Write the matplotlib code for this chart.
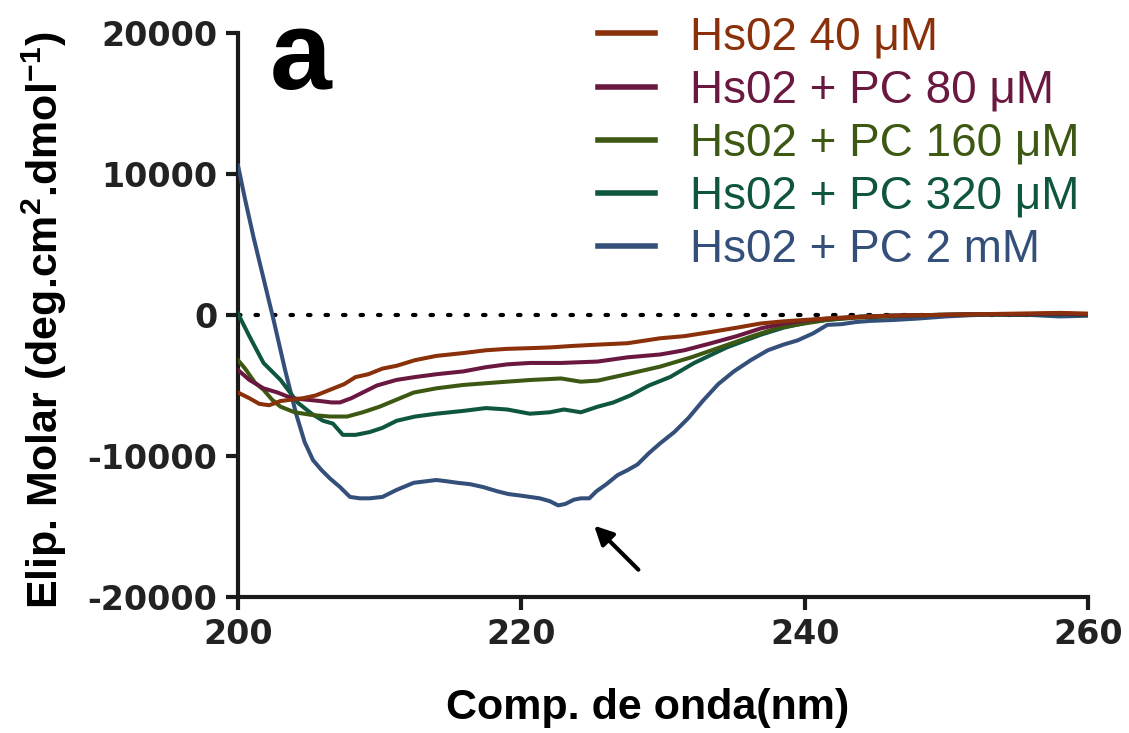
import matplotlib
matplotlib.use('Agg')
import matplotlib.pyplot as plt

plt.rcParams['font.family'] = ['Liberation Sans', 'DejaVu Sans']
plt.rcParams['mathtext.default'] = 'regular'
plt.rcParams['axes.unicode_minus'] = False

# CD spectra (wavelength in nm, molar ellipticity)
LABELS = ['Hs02 40 \u03bcM', 'Hs02 + PC 80 \u03bcM', 'Hs02 + PC 160 \u03bcM',
          'Hs02 + PC 320 \u03bcM', 'Hs02 + PC 2 mM']
COLORS = ['#8a300a', '#6a1840', '#3c5812', '#0f5640', '#34507a']

nm_40 = [200, 200.8, 201.5, 202.2, 203.0, 203.8, 204.6, 205.5, 206.5, 207.5, 208.3, 209.2, 210.2,
         211.2, 212.5, 214.0, 215.9, 217.5, 219.0, 220.6, 222.0, 223.5, 225.4, 227.5, 229.8, 231.5,
         233.4, 235.2, 236.9, 238.5, 240.0, 241.6, 243.5, 246, 249, 252, 255, 258, 260]
el_40 = [-5500, -5900, -6300, -6400, -6100, -6000, -5900, -5700, -5300, -4900, -4400, -4200, -3800,
         -3600, -3200, -2900, -2700, -2500, -2400, -2350, -2300, -2200, -2100, -2000, -1650, -1500,
         -1200, -900, -600, -450, -350, -250, -150, -50, 0, 50, 100, 150, 100]

nm_80 = [200, 200.8, 201.8, 202.8, 203.8, 204.8, 205.8, 206.6, 207.2, 208.0, 208.8, 209.8, 211.2,
         212.5, 214.0, 215.9, 217.5, 219.0, 220.6, 222.8, 225.4, 227.5, 229.8, 231.5, 233.4, 235.2,
         236.9, 238.5, 240.0, 241.6, 243.5, 246, 249, 252, 255, 258, 260]
el_80 = [-3900, -4600, -5200, -5500, -5900, -6000, -6100, -6200, -6200, -5900, -5500, -5000, -4600,
         -4400, -4200, -4000, -3700, -3500, -3400, -3400, -3300, -3000, -2800, -2500, -2000, -1500,
         -950, -600, -400, -250, -150, -50, 0, 50, 50, 100, 50]

nm_160 = [200, 200.5, 201.2, 201.8, 202.4, 203.0, 204.0, 205.3, 206.5, 207.7, 208.8, 210.0, 211.2,
          212.4, 214.0, 215.9, 218.0, 220.6, 222.8, 224.2, 225.4, 227.7, 229.8, 232.0, 234.5, 236.3,
          238.1, 240.0, 241.6, 243.5, 246, 249, 252, 255, 258, 260]
el_160 = [-3200, -3800, -4800, -5300, -6000, -6500, -6900, -7100, -7200, -7200, -6900, -6500, -6000,
          -5500, -5200, -4960, -4800, -4610, -4500, -4730, -4650, -4140, -3660, -3000, -2130, -1500,
          -920, -600, -350, -200, -100, 0, 50, 50, 100, 50]

nm_320 = [200, 200.8, 201.8, 203.0, 204.2, 205.2, 206.0, 206.7, 207.4, 208.3, 209.3, 210.2, 211.2,
          212.5, 214.0, 215.9, 217.5, 219.0, 220.6, 222.0, 223.0, 224.2, 225.4, 226.5, 227.7, 229.0,
          230.5, 232.2, 234.5, 236.9, 238.5, 240.4, 242.0, 244.0, 246, 249, 252, 255, 258, 260]
el_320 = [100, -1500, -3400, -4600, -6200, -7000, -7500, -7700, -8500, -8500, -8300, -8000, -7500,
          -7200, -7000, -6800, -6600, -6700, -7000, -6900, -6700, -6900, -6500, -6200, -5700, -5000,
          -4400, -3400, -2300, -1400, -900, -470, -300, -100, -50, 0, 50, 0, 50, 0]

nm_2mm = [200.0, 200.5, 201.1, 201.8, 202.5, 203.3, 204.1, 204.7, 205.3, 205.9, 206.5, 207.2, 207.9,
          208.6, 209.3, 210.2, 211.2, 212.4, 213.2, 214.0, 214.8, 215.5, 216.4, 217.3, 218.3, 219.1,
          219.9, 220.6, 221.3, 222.0, 222.6, 223.1, 223.7, 224.2, 224.8, 225.3, 226.0, 226.8, 227.5,
          228.2, 229.0, 229.8, 230.8, 231.8, 232.8, 233.9, 235.0, 236.2, 237.4, 238.5, 239.5, 240.6,
          241.6, 242.6, 243.6, 244.6, 246.3, 248.0, 250.0, 252.0, 254.0, 256.0, 258.0, 260.0]
el_2mm = [10600, 8200, 5500, 2600, -300, -3800, -7000, -9000, -10300, -11000, -11600, -12200, -12900,
          -13000, -13000, -12900, -12400, -11900, -11800, -11700, -11800, -11900, -12000, -12200,
          -12500, -12700, -12800, -12900, -13000, -13200, -13500, -13400, -13100, -13000, -13000,
          -12500, -12000, -11350, -11000, -10600, -9800, -9100, -8300, -7300, -6100, -4900, -4000,
          -3200, -2500, -2100, -1800, -1300, -700, -650, -500, -420, -350, -250, -100, 0, 50, 0,
          -100, -50]

X_TICKS = [200, 220, 240, 260]
Y_TICKS = [-20000, -10000, 0, 10000, 20000]

series = [(nm_40, el_40), (nm_80, el_80), (nm_160, el_160), (nm_320, el_320), (nm_2mm, el_2mm)]

fig = plt.figure(figsize=(11.29, 7.33), dpi=100)
ax = fig.add_axes([0.2108, 0.1855, 0.7529, 0.7695])

ax.axhline(0, color='black', lw=3, linestyle=(0, (0.6, 3.6)), dash_capstyle='round', zorder=1)

handles = []
for i, ((x, y), lab, col) in enumerate(zip(series, LABELS, COLORS)):
    h, = ax.plot(x, y, color=col, lw=2.9, label=lab, zorder=10 - i)
    handles.append(h)

ax.set_xlim(200, 260)
ax.set_ylim(-20000, 20000)
ax.set_xticks(X_TICKS)
ax.set_yticks(Y_TICKS)
for s in ['top', 'right']:
    ax.spines[s].set_visible(False)
for s in ['left', 'bottom']:
    ax.spines[s].set_linewidth(3)
    ax.spines[s].set_color('#1a1a1a')
ax.tick_params(width=3, length=9, color='#1a1a1a', pad=6)
for lab in ax.get_xticklabels() + ax.get_yticklabels():
    lab.set_fontfamily('DejaVu Sans')
    lab.set_fontweight('bold')
    lab.set_fontsize(24)
    lab.set_color('#222222')

ax.set_xlabel('Comp. de onda(nm)', fontsize=31, fontweight='bold')
ax.xaxis.set_label_coords(0.482, -0.197)
ax.xaxis.label.set_va('center')
ax.set_ylabel('Elip. Molar (deg.cm$^2$.dmol$^{-1}$)', fontsize=31, fontweight='bold')
ax.yaxis.set_label_coords(-0.228, 0.49)
ax.yaxis.label.set_va('center')

ax.text(204.4, 18100, 'a', fontsize=80, fontweight='bold', ha='center', va='center')

ax.annotate('', xy=(225.0, -14800), xytext=(228.4, -18200),
            arrowprops=dict(arrowstyle='-|>', color='black', lw=3, mutation_scale=28))

leg = ax.legend(handles=handles, loc='upper left', bbox_to_anchor=(0.4235, 1.031), frameon=False,
                fontsize=33, handlelength=1.24, handletextpad=0.76, labelspacing=0.2,
                borderpad=0, borderaxespad=0, labelcolor='linecolor')
for line in leg.get_lines():
    line.set_linewidth(4)

fig.savefig('out.png', dpi=100)
